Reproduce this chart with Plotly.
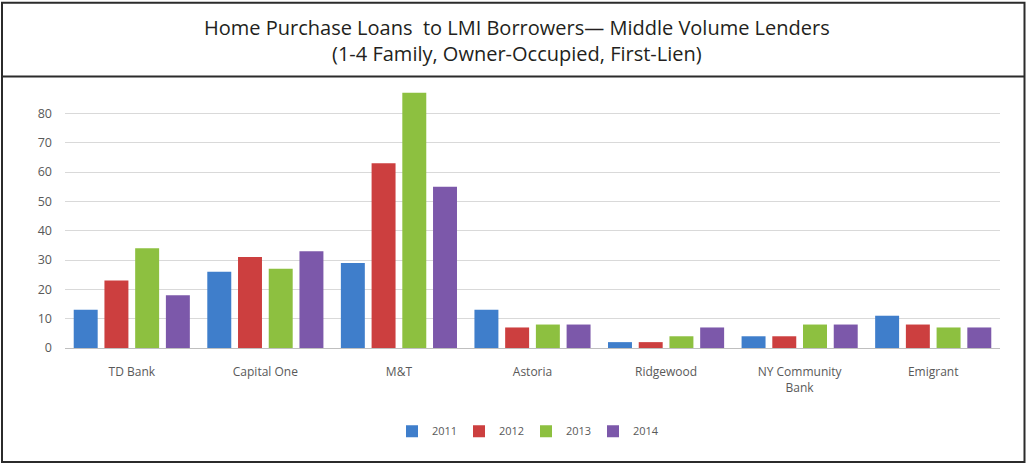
import plotly.graph_objects as go

lenders = ["TD Bank", "Capital One", "M&T", "Astoria", "Ridgewood", "NY Community<br>Bank", "Emigrant"]
years = ["2011", "2012", "2013", "2014"]
v2011 = [13, 26, 29, 13, 2, 4, 11]
v2012 = [23, 31, 63, 7, 2, 4, 8]
v2013 = [34, 27, 87, 8, 4, 8, 7]
v2014 = [18, 33, 55, 8, 7, 8, 7]
series = [v2011, v2012, v2013, v2014]
colors = ["#3f7ecb", "#cc3f3f", "#8dc040", "#7c58aa"]
yticks = [0, 10, 20, 30, 40, 50, 60, 70, 80]

W, H = 1027, 466
L, R, T, B = 65, 27, 83.5, 117.5

fig = go.Figure()
for name, vals, c in zip(years, series, colors):
    fig.add_trace(go.Bar(x=lenders, y=vals, name=name, marker=dict(color=c, line=dict(width=0))))

def px(x):
    return (x - L) / (W - L - R)

def py(y):
    return (H - B - y) / (H - T - B)

shapes = [
    dict(type="rect", xref="paper", yref="paper", x0=px(2), x1=px(1024.5), y0=py(2), y1=py(463),
         line=dict(color="#2b2b2b", width=2), fillcolor="rgba(0,0,0,0)", layer="above"),
    dict(type="line", xref="paper", yref="paper", x0=px(2), x1=px(1024.5), y0=py(76), y1=py(76),
         line=dict(color="#2b2b2b", width=2)),
]

fig.update_layout(
    width=W, height=H,
    margin=dict(l=L, r=R, t=T, b=B),
    paper_bgcolor="white", plot_bgcolor="white",
    barmode="group", bargap=0.08, bargroupgap=0.22,
    shapes=shapes,
    annotations=[dict(
        text="Home Purchase Loans  to LMI Borrowers— Middle Volume Lenders<br>(1-4 Family, Owner-Occupied, First-Lien)",
        xref="paper", yref="paper", x=px(517), y=py(40), xanchor="center", yanchor="middle",
        showarrow=False, font=dict(family="Open Sans", size=20, color="#231f20"))],
    font=dict(family="Open Sans", size=12, color="#595959"),
    legend=dict(orientation="h", x=px(526), y=py(432), xanchor="center", yanchor="middle",
                font=dict(size=11, color="#595959"), entrywidth=22, entrywidthmode="pixels",
                traceorder="normal"),
    xaxis=dict(showgrid=False, showline=False, ticks="", ticklabelstandoff=15,
               tickfont=dict(size=12, color="#595959")),
    yaxis=dict(range=[0, 90], tickvals=yticks, showgrid=True, gridcolor="#d9d9d9", gridwidth=1,
               zeroline=True, zerolinecolor="#bfbfbf", zerolinewidth=1, showline=False,
               ticks="", ticklabelstandoff=12, tickfont=dict(size=12.5, color="#595959")),
)

fig.write_html("out.html")
